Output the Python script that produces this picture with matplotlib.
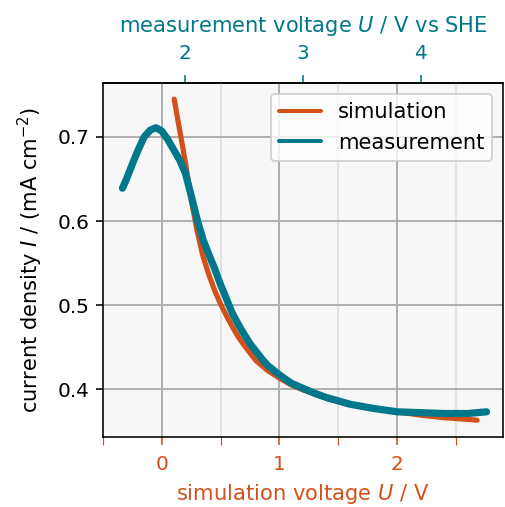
import numpy as np
import matplotlib
matplotlib.use("Agg")
import matplotlib.pyplot as plt
from matplotlib.ticker import MultipleLocator, FixedLocator

# colours of the two data sets
sim_color = '#d4501a'
meas_color = '#00778a'

# offset between the simulation and measurement voltage scales
offset = 1.8

# simulation curve
sim_u = [0.105, 0.13, 0.167, 0.2, 0.25, 0.3, 0.35, 0.4, 0.45, 0.5, 0.55, 0.6,
         0.65, 0.7, 0.75, 0.8, 0.9, 1.0, 1.1, 1.2, 1.3, 1.4, 1.5, 1.6, 1.8,
         2.0, 2.2, 2.4, 2.6, 2.68]
sim_i = [0.745, 0.725, 0.696, 0.670, 0.625, 0.588, 0.558, 0.536, 0.517, 0.501,
         0.487, 0.474, 0.462, 0.452, 0.443, 0.434, 0.422, 0.413, 0.405, 0.399,
         0.394, 0.389, 0.385, 0.382, 0.377, 0.373, 0.369, 0.366, 0.364, 0.363]

meas_u = [-0.335, -0.3, -0.25, -0.2, -0.15, -0.1, -0.05, 0.0, 0.05, 0.1, 0.15,
          0.2, 0.25, 0.3, 0.35, 0.4, 0.45, 0.5, 0.55, 0.6, 0.65, 0.7, 0.75,
          0.8, 0.85, 0.9, 1.0, 1.1, 1.2, 1.3, 1.4, 1.5, 1.6, 1.8, 2.0, 2.2,
          2.4, 2.6, 2.76]
meas_i = [0.639, 0.650, 0.668, 0.685, 0.700, 0.708, 0.711, 0.707, 0.697, 0.685,
          0.673, 0.657, 0.630, 0.602, 0.578, 0.560, 0.543, 0.524, 0.507, 0.490,
          0.477, 0.465, 0.454, 0.445, 0.436, 0.428, 0.417, 0.407, 0.401, 0.395,
          0.390, 0.386, 0.382, 0.377, 0.373, 0.372, 0.371, 0.371, 0.373]

fig = plt.figure(figsize=(505 / 144, 507 / 144), dpi=144)
ax = fig.add_axes([0.204, 0.138, 0.792, 0.698])
ax.set_facecolor('#f7f7f7')

ax.plot(sim_u, sim_i, color=sim_color, lw=2.6, label='simulation', solid_capstyle='round')
ax.plot(meas_u, meas_i, color=meas_color, lw=3.6, label='measurement', solid_capstyle='round')

ax.set_xlim(-0.5, 2.9)
ax.set_ylim(0.343, 0.764)
ax.xaxis.set_major_locator(MultipleLocator(1))
ax.xaxis.set_minor_locator(MultipleLocator(0.5))
ax.yaxis.set_major_locator(MultipleLocator(0.1))
ax.grid(which='major', color='#b0b0b0', lw=1.0)
ax.grid(which='minor', axis='x', color='#e3e3e3', lw=1.0)
ax.set_axisbelow(True)

ax.tick_params(axis='x', which='both', colors=sim_color, labelsize=10, length=4, pad=5)
ax.tick_params(axis='y', labelsize=10)
ax.set_xlabel('simulation voltage $U$ / V', color=sim_color, fontsize=10.5, labelpad=4)
ax.set_ylabel('current density $I$ / (mA cm$^{-2}$)', fontsize=10.5, labelpad=6)

top = ax.secondary_xaxis('top', functions=(lambda u: u + offset, lambda u: u - offset))
top.xaxis.set_major_locator(FixedLocator([2, 3, 4]))
top.xaxis.set_minor_locator(FixedLocator([]))
top.tick_params(axis='x', colors=meas_color, labelsize=10, length=4, pad=6)
top.set_xlabel('measurement voltage $U$ / V vs SHE', color=meas_color, fontsize=10.5, labelpad=6)

leg = ax.legend(loc='upper right', fontsize=10.5, handlelength=2.0)
for line in leg.get_lines():
    line.set_linewidth(2.0)

fig.savefig('out.png', dpi=144)
